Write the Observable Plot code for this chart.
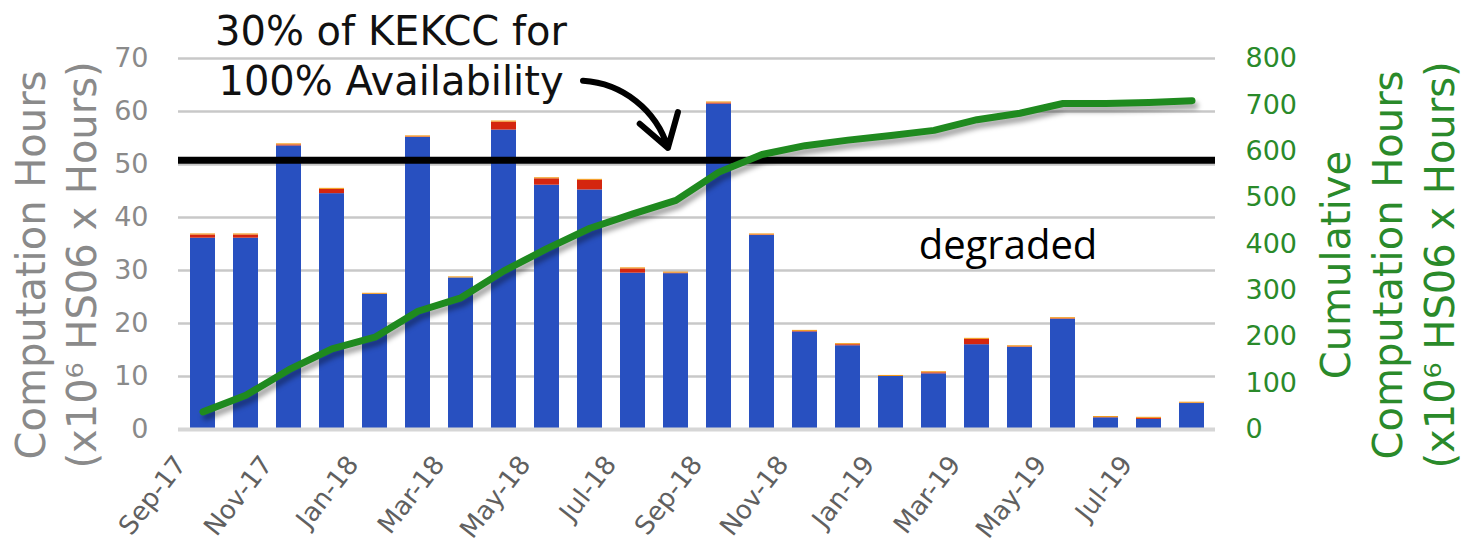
<!DOCTYPE html>
<html><head><meta charset="utf-8">
<script src="https://cdn.jsdelivr.net/npm/d3@7"></script>
<script src="https://cdn.jsdelivr.net/npm/@observablehq/plot@0.6"></script>
<style>
html,body{margin:0;padding:0;background:#fff;}
.shadow{filter: drop-shadow(3px 5px 2.5px rgba(0,0,0,0.35));}
</style></head><body><div id="chart"></div>
<script>
// ---- data ----
const months = ["Sep-17","Oct-17","Nov-17","Dec-17","Jan-18","Feb-18","Mar-18","Apr-18","May-18","Jun-18","Jul-18","Aug-18",
                "Sep-18","Oct-18","Nov-18","Dec-18","Jan-19","Feb-19","Mar-19","Apr-19","May-19","Jun-19","Jul-19","Aug-19"];
const blueHours   = [36.1,36.1,53.5,44.5,25.5,55.1,28.6,56.5,46.1,45.2,29.5,29.4,61.4,36.6,18.4,15.8,10.0,10.5,16.0,15.5,20.8,2.2,1.9,4.9];
const redHours    = [0.6,0.6,0.2,0.8,0.0,0.1,0.0,1.5,1.2,1.8,0.8,0.1,0.2,0.1,0.1,0.2,0.0,0.2,1.0,0.1,0.1,0.05,0.2,0.05];
const orangeHours = [0.2,0.2,0.2,0.2,0.2,0.2,0.2,0.2,0.2,0.2,0.2,0.2,0.2,0.2,0.2,0.2,0.2,0.2,0.2,0.2,0.2,0.2,0.2,0.2];
const cumulative  = [38,74,129,174,199,255,284,342,390,434,465,494,555,593,612,624,634,645,668,682,703,703,705,709];
const leftTicks   = [0,10,20,30,40,50,60,70];
const rightTicks  = [0,100,200,300,400,500,600,700,800];
const xTickLabels = ["Sep-17","Nov-17","Jan-18","Mar-18","May-18","Jul-18","Sep-18","Nov-18","Jan-19","Mar-19","May-19","Jul-19"];
const threshold   = 50.8;
const seriesNames = ["series A","series B","series C"];
const seriesColors= ["#2850c0","#d4260f","#f39a1b"];
const annotationText = "30% of KEKCC for\n100% Availability";
const degradedText = "degraded";
const leftTitle  = "Computation Hours\n(x10\u2076 HS06 x Hours)";
const rightTitle = "Cumulative\nComputation Hours\n(x10\u2076 HS06 x Hours)";

// ---- derived tables ----
const rightMax = 800, leftMax = 70;
const toLeft = v => v * leftMax / rightMax;
const rows = [];
[blueHours, redHours, orangeHours].forEach((arr, s) =>
  arr.forEach((v, i) => rows.push({month: months[i], series: seriesNames[s], value: v})));
const cumRows = cumulative.map((c, i) => ({month: months[i], cum: c}));

const font = "DejaVu Sans";
const chart = Plot.plot({
  width: 1465, height: 553,
  marginLeft: 178, marginRight: 250, marginTop: 58, marginBottom: 124,
  x: {type: "band", domain: months, paddingInner: 0.43, paddingOuter: 0.215, label: null},
  y: {domain: [0, leftMax], label: null},
  color: {type: "ordinal", domain: seriesNames, range: seriesColors},
  style: {fontFamily: font, background: "white", overflow: "visible"},
  marks: [
    Plot.gridY(leftTicks, {stroke: "#c8c8c8", strokeOpacity: 1, strokeWidth: 2.5}),
    Plot.barY(rows, {x: "month", y: "value", fill: "series"}),
    Plot.ruleY([0], {stroke: "#d6d6d6", strokeWidth: 4}),
    Plot.ruleY([threshold], {stroke: "#000", strokeWidth: 7}),
    Plot.line(cumRows, {x: "month", y: d => toLeft(d.cum), stroke: "#1f8a1f", strokeWidth: 7, className: "shadow", strokeLinejoin: "round", strokeLinecap: "round"}),
    Plot.axisY({anchor: "left", ticks: leftTicks, tickSize: 0, tickPadding: 30, fontSize: 27, fill: "#8a8a8a", label: null}),
    Plot.axisY({anchor: "right", ticks: rightTicks.map(toLeft), tickFormat: d => String(Math.round(d * rightMax / leftMax)), tickSize: 0, tickPadding: 30, fontSize: 27, fill: "#2a8a2a", label: null}),
    Plot.axisX({ticks: xTickLabels, tickRotate: -52, tickSize: 0, tickPadding: 30, dx: -22, fontSize: 26, fill: "#606060", label: null}),
    Plot.text([leftTitle], {frameAnchor: "left", text: d => d, rotate: -90, dx: -124, dy: 21, fontSize: 40, lineHeight: 1.27, fill: "#8a8a8a", textAnchor: "middle", lineAnchor: "middle"}),
    Plot.text([rightTitle], {frameAnchor: "right", text: d => d, rotate: -90, dx: 170, dy: 21, fontSize: 40, lineHeight: 1.29, fill: "#2a8a2a", textAnchor: "middle", lineAnchor: "middle"}),
    Plot.text([{month: "Jan-18", y: 70.8}], {x: "month", y: "y", text: () => annotationText, dx: 16, fontSize: 40, lineHeight: 1.25, fill: "#111", textAnchor: "middle", lineAnchor: "middle"}),
    Plot.arrow([{a: "Jun-18", b: "Aug-18", y1: 65.8, y2: 52.4}], {x1: "a", x2: "b", y1: "y1", y2: "y2", dx: -7, bend: 36, insetEnd: 4, stroke: "#000", strokeWidth: 6, headLength: 24, headAngle: 65}),
    Plot.text([{month: "Mar-19", y: 35.3}], {x: "month", y: "y", text: () => degradedText, dx: 31, dy: 4, fontSize: 40, fontFamily: "Open Sans", fill: "#000", textAnchor: "middle", lineAnchor: "middle"})
  ]
});
document.getElementById("chart").appendChild(chart);
</script></body></html>
